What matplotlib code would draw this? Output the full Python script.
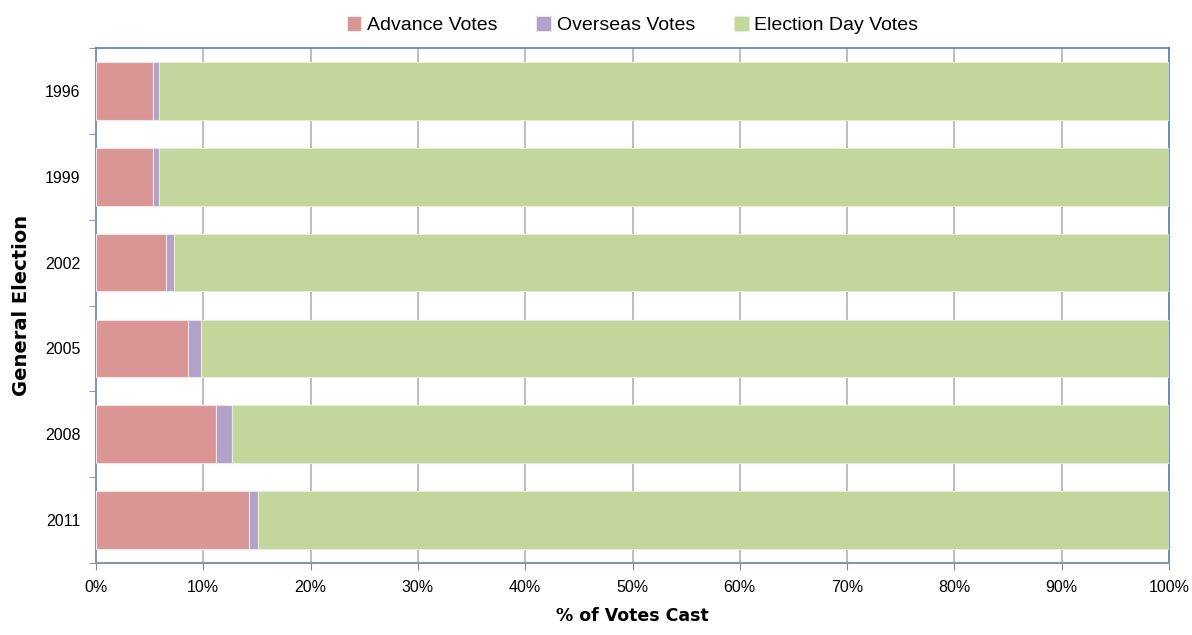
import matplotlib.pyplot as plt
import numpy as np
from matplotlib.ticker import FixedLocator, PercentFormatter

years = ['1996', '1999', '2002', '2005', '2008', '2011']
advance = [5.3, 5.3, 6.5, 8.6, 11.2, 14.3]
overseas = [0.6, 0.55, 0.8, 1.2, 1.45, 0.8]
election_day = [100 - a - o for a, o in zip(advance, overseas)]

plt.rcParams['font.family'] = ['Liberation Sans', 'DejaVu Sans']

px = 1 / 100
fig = plt.figure(figsize=(1192 * px, 635 * px), dpi=100)
ax = fig.add_axes([96 / 1192, 1 - 563 / 635, (1169 - 96) / 1192, (563 - 48) / 635])

y = np.arange(len(years))
h = 0.67
adv = np.array(advance)
ovs = np.array(overseas)
ax.barh(y, adv, h, color='#D99694', edgecolor='#F2E4E4', linewidth=0.8, label='Advance Votes', zorder=3)
ax.barh(y, ovs, h, left=adv, color='#B3A2C7', edgecolor='#EAE4F0', linewidth=0.8, label='Overseas Votes', zorder=3)
ax.barh(y, election_day, h, left=adv + ovs, color='#C3D69B', edgecolor='#E6EED6', linewidth=0.8, label='Election Day Votes', zorder=3)

ax.set_xlim(0, 100)
ax.set_ylim(len(years) - 0.5, -0.5)
ax.set_xticks(np.arange(0, 101, 10))
ax.xaxis.set_major_formatter(PercentFormatter(decimals=0))
ax.set_yticks(y)
ax.set_yticklabels(years)
ax.yaxis.set_minor_locator(FixedLocator(np.arange(-0.5, len(years), 1)))
ax.tick_params(axis='y', which='major', length=0, pad=11, labelsize=11.5)
ax.tick_params(axis='y', which='minor', length=5, color='#868686', direction='out')
ax.tick_params(axis='x', length=5, color='#868686', direction='out', labelsize=11.5, pad=7)
ax.grid(axis='x', color='#B3B3B3', linewidth=1.2, zorder=0)

for s in ['left', 'bottom']:
    ax.spines[s].set_color('#8497A8')
    ax.spines[s].set_linewidth(1.5)
for s in ['top', 'right']:
    ax.spines[s].set_color('#4F81BD')
    ax.spines[s].set_linewidth(1.2)

ax.set_xlabel('% of Votes Cast', fontsize=12.5, fontweight='bold', fontfamily=['DejaVu Sans'], labelpad=9)
ax.set_ylabel('General Election', fontsize=14, fontweight='bold', fontfamily=['DejaVu Sans'], labelpad=10)

ax.legend(loc='lower center', bbox_to_anchor=(0.5, 1.0), ncol=3, frameon=False, fontsize=14,
          handlelength=0.75, handleheight=0.75, handletextpad=0.3, columnspacing=2.0, borderaxespad=0.3)

fig.savefig('out.png', dpi=100)
